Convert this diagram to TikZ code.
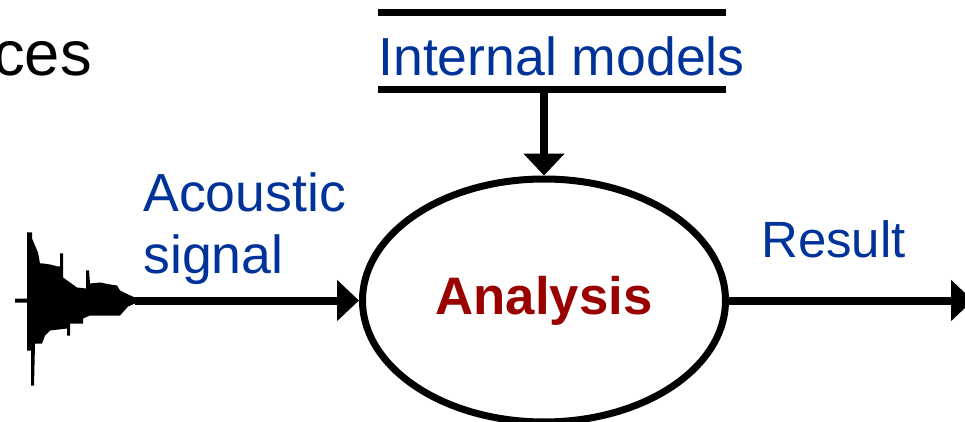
\documentclass[tikz,border=0pt]{standalone}
\usepackage{fontspec}
\setmainfont{Liberation Sans}
\usetikzlibrary{shapes,arrows.meta,positioning}

\definecolor{lblblue}{HTML}{003399}
\definecolor{procred}{HTML}{990000}

\begin{document}
\begin{tikzpicture}[
    process/.style={ellipse, draw, line width=0.14cm, minimum width=7.26cm, minimum height=4.86cm, inner sep=0pt, font=\fontsize{30}{35}\selectfont\bfseries, text=procred},
    lbl/.style={inner sep=0pt, font=\fontsize{30.5}{35}\selectfont, text=lblblue, align=left},
    bar/.style={line width=0.14cm},
    arrow/.style={-{Triangle[width=0.8cm,length=0.44cm]}, line width=0.16cm}
]
\useasboundingbox (0,0) rectangle (19.3,8.42);

% title fragment
\node[inner sep=0pt, anchor=base east, font=\fontsize{36}{40}\selectfont] (title) at (1.84,6.92) {ces};

% the analysis process
\node[process] (analysis) at (10.88,2.41) {Analysis};

% internal models store (two bars)
\node[lbl, anchor=base west] (models) at (7.56,6.92) {Internal models};
\draw[bar] (7.56,8.16) -- (14.52,8.16);
\draw[bar] (7.56,6.64) -- (14.52,6.64);
\coordinate (tap) at (10.88,6.64);
\draw[arrow] (tap) -- (analysis);

% acoustic signal (waveform)
\begin{scope}[shift={(0,2.41)}, x=0.02cm, y=0.02cm]
  \fill (15,2) -- (27,2) -- (27,68) -- (32,68) -- (32,62) -- (35,55) -- (38,48) -- (40,37)
    -- (43,37) -- (50,36) -- (58,34) -- (60,34) -- (60,47) -- (63,47) -- (63,23) -- (70,18)
    -- (77,13) -- (86,12) -- (86,30) -- (89,30) -- (90,17) -- (100,18) -- (110,16) -- (117,15)
    -- (120,10) -- (128,6) -- (135,3)
    -- (135,-3) -- (128,-6) -- (120,-15) -- (90,-15) -- (83,-18) -- (83,-23) -- (70,-23)
    -- (70,-35) -- (67,-35) -- (67,-28) -- (50,-30) -- (45,-35) -- (42,-43) -- (35,-43)
    -- (34,-85) -- (31,-85) -- (31,-50) -- (27,-50) -- (27,-2) -- (15,-2) -- cycle;
  \coordinate (wave) at (135,0);
\end{scope}
\node[lbl, anchor=base west] (signal) at (2.86,2.96) {Acoustic\\signal};
\draw[arrow] (wave) -- (analysis);

% result
\coordinate (out) at (19.46,2.41);
\node[lbl, anchor=base west, font=\fontsize{29}{33}\selectfont] (result) at (15.22,3.28) {Result};
\draw[arrow] (analysis) -- (out);

\end{tikzpicture}
\end{document}
